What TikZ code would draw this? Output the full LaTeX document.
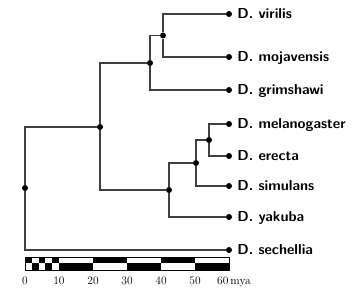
\documentclass[tikz,border=0pt]{standalone}
\usepackage{tikz}
\usetikzlibrary{positioning}

\begin{document}
\begin{tikzpicture}[
    x=1pt, y=-1pt,
    branch/.style={line width=1.1pt, black!75},
    split/.style={circle, fill=black, inner sep=0pt, minimum size=6pt},
    taxon/.style={font=\fontsize{14.4}{17}\selectfont\sffamily\bfseries, inner sep=0pt, text height=10pt, text depth=0pt},
    tick/.style={font=\fontsize{11.5}{13}\selectfont, inner sep=0pt},
]
    \useasboundingbox (0,0) rectangle (354,299);

    % leaves
    \node[split] (vir) at (229,14) {};
    \node[split] (moj) at (229,57) {};
    \node[split] (gri) at (229,90) {};
    \node[split] (mel) at (229,124) {};
    \node[split] (ere) at (229,156) {};
    \node[split] (sim) at (229,186) {};
    \node[split] (yak) at (229,217) {};
    \node[split] (sec) at (229,250) {};

    \node[taxon, right=5pt of vir] {D. virilis};
    \node[taxon, right=5pt of moj] {D. mojavensis};
    \node[taxon, right=5pt of gri] {D. grimshawi};
    \node[taxon, right=5pt of mel] {D. melanogaster};
    \node[taxon, right=5pt of ere] {D. erecta};
    \node[taxon, right=5pt of sim] {D. simulans};
    \node[taxon, right=5pt of yak] {D. yakuba};
    \node[taxon, right=5pt of sec] {D. sechellia};

    % internal splits
    \node[split] (virmoj) at (163,35.5) {};
    \node[split] (upper) at (150,63) {};
    \node[split] (melere) at (209,140) {};
    \node[split] (melsim) at (196,163) {};
    \node[split] (lower) at (169,190) {};
    \node[split] (mid) at (100,127) {};
    \node[split] (root) at (25,188) {};

    \draw[branch] (virmoj) |- (vir);
    \draw[branch] (virmoj) |- (moj);
    \draw[branch] (upper) |- (virmoj);
    \draw[branch] (upper) |- (gri);
    \draw[branch] (melere) |- (mel);
    \draw[branch] (melere) |- (ere);
    \draw[branch] (melsim) |- (melere);
    \draw[branch] (melsim) |- (sim);
    \draw[branch] (lower) |- (melsim);
    \draw[branch] (lower) |- (yak);
    \draw[branch] (mid) |- (upper);
    \draw[branch] (mid) |- (lower);
    \draw[branch] (root) |- (mid);
    \draw[branch] (root) |- (sec);

    % scale bar
    \begin{scope}[xshift=25pt, x=3.4pt]
        \foreach \i in {0,...,4} {
            \pgfmathsetmacro{\a}{2*\i}
            \pgfmathsetmacro{\b}{2*\i+2}
            \ifodd\i
                \fill (\a,263.5) rectangle (\b,270);
            \else
                \fill (\a,257) rectangle (\b,263.5);
            \fi
        }
        \foreach \a/\b/\up in {10/20/0,20/30/1,30/40/0,40/50/1,50/60/0} {
            \ifnum\up=1
                \fill (\a,257) rectangle (\b,263.5);
            \else
                \fill (\a,263.5) rectangle (\b,270);
            \fi
        }
        \draw[line width=0.9pt] (0,257) rectangle (60,270);
        \foreach \t in {0,10,...,50}
            \node[tick] at (\t,281) {\t};
        \node[tick] (sixty) at (58.2,281) {60};
        \node[tick, anchor=base west] at ([xshift=1.5pt]sixty.base east) {mya};
    \end{scope}
\end{tikzpicture}
\end{document}
